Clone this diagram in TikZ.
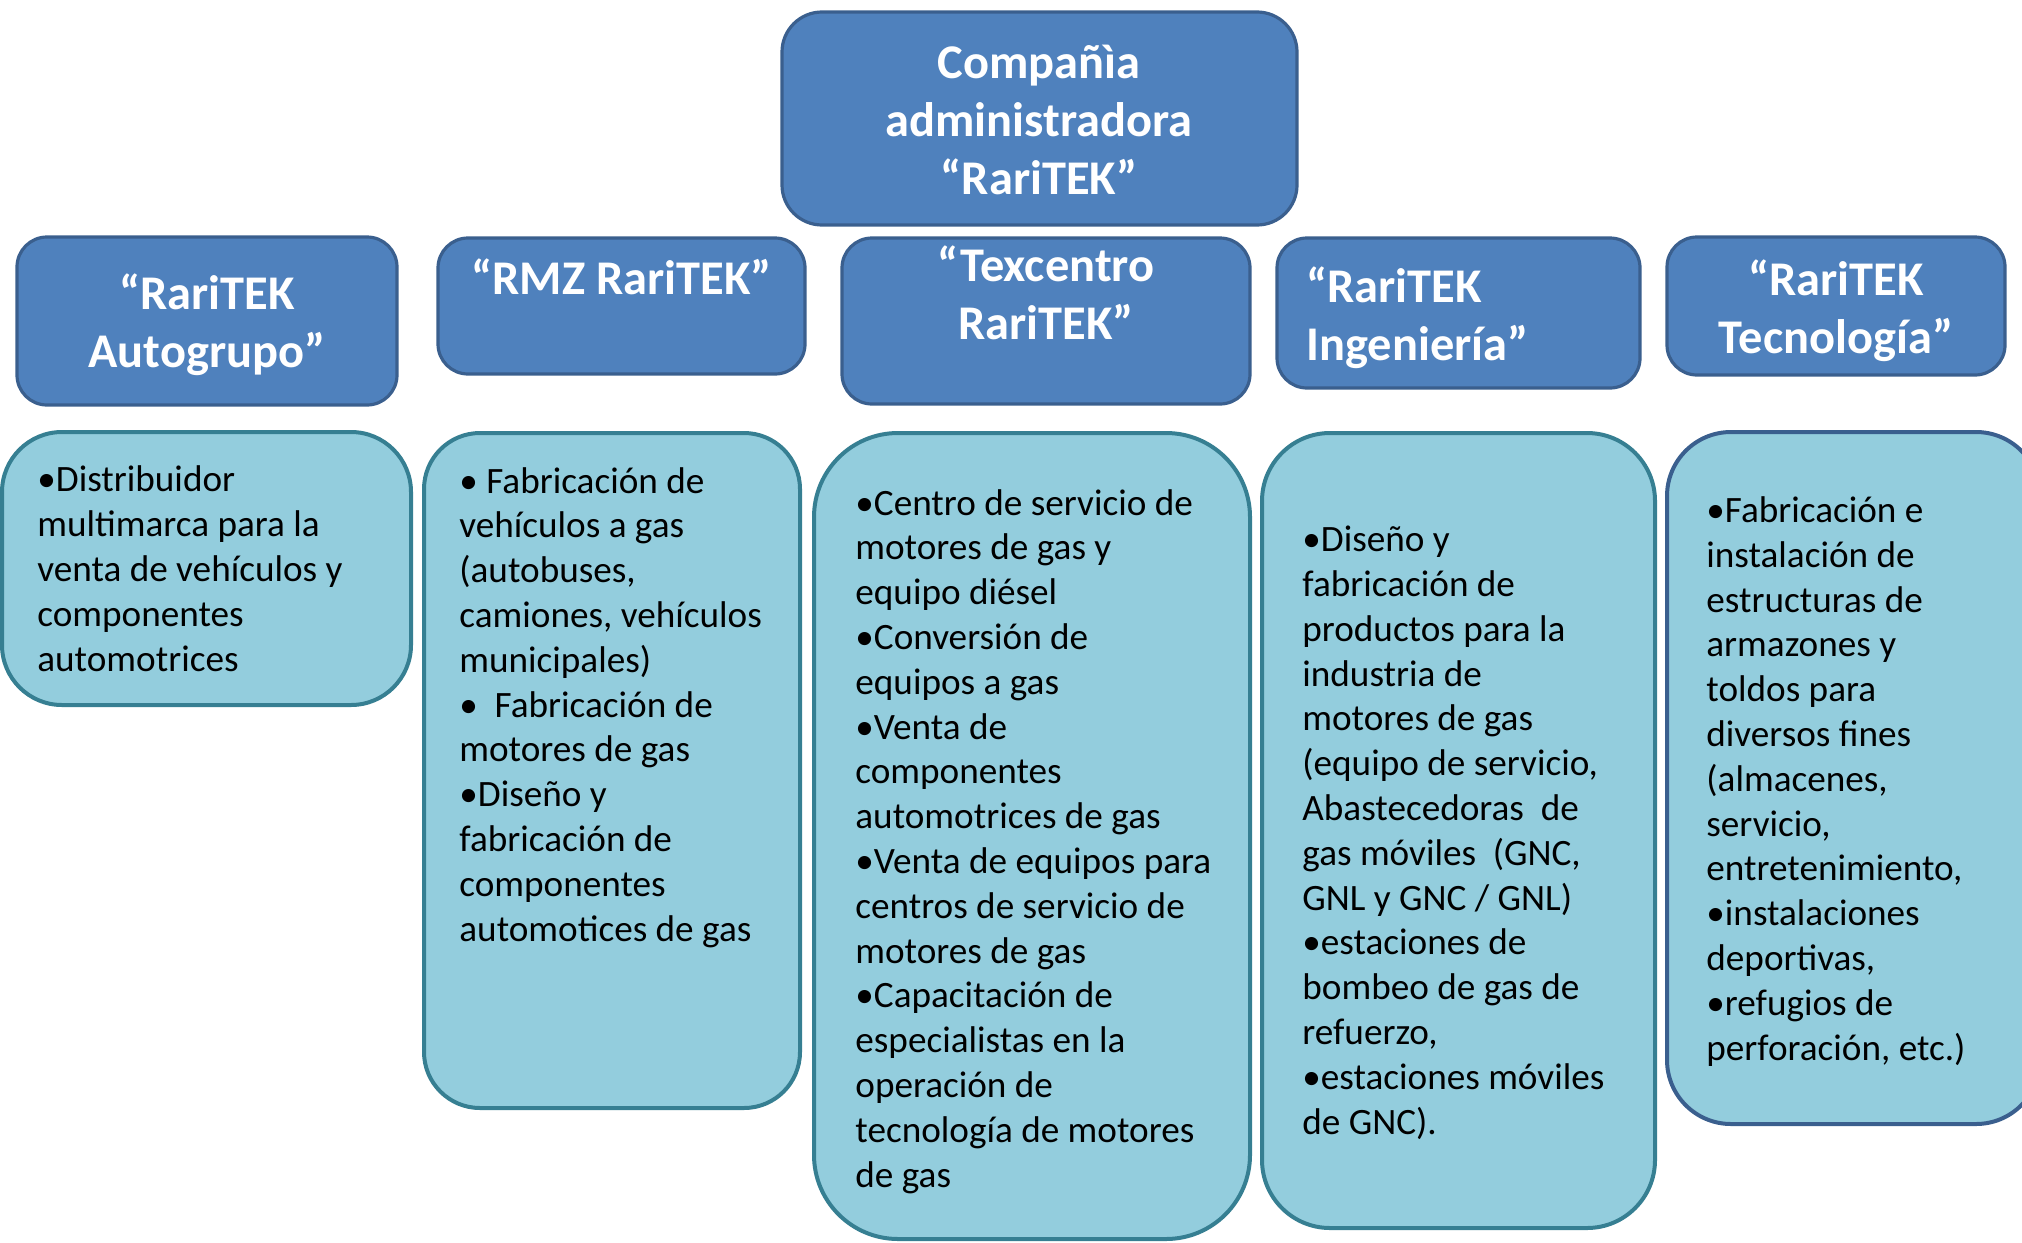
\documentclass[tikz,border=0pt]{standalone}
\usepackage{fontspec}
\setmainfont{Carlito}
\definecolor{headfill}{HTML}{4F81BD}
\definecolor{headline}{HTML}{3A5F8E}
\definecolor{bodyfill}{HTML}{93CDDD}
\definecolor{bodyline}{HTML}{367F92}

\begin{document}
\begin{tikzpicture}[x=0.5pt,y=-0.5pt]
\tikzstyle{head}= [rectangle,draw=headline,fill=headfill,line width=1.6pt,rounded corners=15pt]
\tikzstyle{body}= [rectangle,draw=bodyline,fill=bodyfill,line width=2pt]
\tikzstyle{htext}= [text=white,font=\fontsize{24.2}{29}\selectfont\bfseries,align=center,inner sep=0pt]
\tikzstyle{btext}= [font=\fontsize{18.6}{22.4}\selectfont,align=left,anchor=base west,inner sep=0pt]

\clip (0,0) rectangle (2022,1242);

% header boxes
\path
	(1039.5,118.5) node[head,minimum width=257.5pt,minimum height=106.5pt,rounded corners=20pt] (top) {}
	( 207,321)   node[head,minimum width=190pt,minimum height=84pt] (hauto) {}
	( 621.5,306) node[head,minimum width=183.5pt,minimum height=68pt] (hrmz) {}
	(1046,321)   node[head,minimum width=204pt,minimum height=83pt] (htex) {}
	(1458.5,313) node[head,minimum width=181.5pt,minimum height=75pt] (hing) {}
	(1836,306)   node[head,minimum width=169pt,minimum height=69pt] (htec) {}
;

% activity boxes
\path
	( 206.5,568.5) node[body,minimum width=204.5pt,minimum height=136.5pt,rounded corners=30pt] (bauto) {}
	( 612,770.5)   node[body,minimum width=188pt,minimum height=337.5pt,rounded corners=28pt] (brmz) {}
	(1032,836)     node[body,minimum width=218pt,minimum height=403pt,rounded corners=42pt] (btex) {}
	(1458.5,830.5) node[body,minimum width=196.5pt,minimum height=397.5pt,rounded corners=34pt] (bing) {}
	(1853.5,778)   node[body,draw=headline,minimum width=186.5pt,minimum height=346pt,rounded corners=32pt] (btec) {}
;

\node[htext] (ttop) at (1039,120) {Compañìa\\administradora\\“RariTEK”};
\node[htext] (tauto) at (207,325) {“RariTEK\\Autogrupo”};
\node[htext] (trmz) at (621.5,277) {“RMZ RariTEK”};
\node[htext] (ttex) at (1046,293) {“Texcentro\\RariTEK”};
\node[htext,align=left,anchor=west] (ting) at (1306,318) {“RariTEK\\Ingeniería”};
\node[htext] (ttec) at (1836,311) {“RariTEK\\Tecnología”};

% text blocks sit on the baseline of their last line
\node[btext] (lauto) at (37,671) {•Distribuidor\\multimarca para la\\venta de vehículos y\\componentes\\automotrices};
\node[btext] (lrmz) at (459,941) {•~Fabricación de\\vehículos a gas\\(autobuses,\\camiones, vehículos\\municipales)\\•~~Fabricación de\\motores de gas\\•Diseño y\\fabricación de\\componentes\\automotices de gas};
\node[btext] (ltex) at (855,1187) {•Centro de servicio de\\motores de gas y\\equipo diésel\\•Conversión de\\equipos a gas\\•Venta de\\componentes\\automotrices de gas\\•Venta de equipos para\\centros de servicio de\\motores de gas\\•Capacitación de\\especialistas en la\\operación de\\tecnología de motores\\de gas};
\node[btext] (ling) at (1302,1134) {•Diseño y\\fabricación de\\productos para la\\industria de\\motores de gas\\(equipo de servicio,\\Abastecedoras~ de\\gas móviles~ (GNC,\\GNL y GNC / GNL)\\•estaciones de\\bombeo de gas de\\refuerzo,\\•estaciones móviles\\de GNC).};
\node[btext] (ltec) at (1706,1060) {•Fabricación e\\instalación de\\estructuras de\\armazones y\\toldos para\\diversos fines\\(almacenes,\\servicio,\\entretenimiento,\\•instalaciones\\deportivas,\\•refugios de\\perforación, etc.)};
\end{tikzpicture}
\end{document}
